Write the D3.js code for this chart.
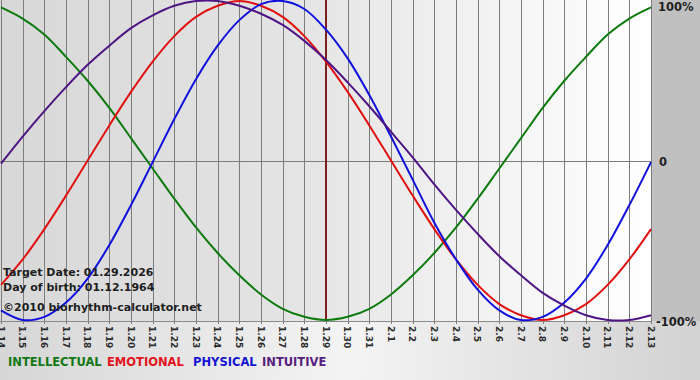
<!DOCTYPE html>
<html><head><meta charset="utf-8">
<script src="https://cdn.jsdelivr.net/npm/d3@7"></script>
<style>html,body{margin:0;padding:0;background:#fff;overflow:hidden}svg{display:block}</style>
</head><body>
<svg id="c" width="700" height="380"></svg>
<script>
const dayLabels = ["1.14","1.15","1.16","1.17","1.18","1.19","1.20","1.21","1.22","1.23","1.24","1.25","1.26","1.27","1.28","1.29","1.30","1.31","2.1","2.2","2.3","2.4","2.5","2.6","2.7","2.8","2.9","2.10","2.11","2.12","2.13"];
const intellectual = [0.96,0.89,0.79,0.65,0.50,0.33,0.14,-0.05,-0.24,-0.42,-0.58,-0.72,-0.84,-0.93,-0.98,-1.00,-0.98,-0.93,-0.84,-0.72,-0.58,-0.42,-0.24,-0.05,0.14,0.33,0.50,0.65,0.79,0.89,0.96];
const emotional = [-0.78,-0.62,-0.43,-0.22,0.00,0.22,0.43,0.62,0.78,0.90,0.97,1.00,0.97,0.90,0.78,0.62,0.43,0.22,0.00,-0.22,-0.43,-0.62,-0.78,-0.90,-0.97,-1.00,-0.97,-0.90,-0.78,-0.62,-0.43];
const physical = [-0.94,-1.00,-0.98,-0.89,-0.74,-0.53,-0.28,-0.01,0.26,0.51,0.72,0.88,0.98,1.00,0.95,0.82,0.64,0.41,0.15,-0.12,-0.39,-0.62,-0.81,-0.94,-1.00,-0.98,-0.89,-0.74,-0.53,-0.28,-0.01];
const intuitive = [-0.02,0.15,0.31,0.46,0.60,0.72,0.83,0.91,0.97,1.00,1.00,0.97,0.92,0.85,0.75,0.63,0.49,0.34,0.18,0.02,-0.15,-0.31,-0.46,-0.60,-0.72,-0.83,-0.91,-0.97,-1.00,-1.00,-0.97];
const targetIndex = 15;
const yTickLabels = [{v:1,t:"100%"},{v:0,t:"0"},{v:-1,t:"-100%"}];
const infoLines = ["Target Date: 01.29.2026","Day of birth: 01.12.1964","\u00A92010 biorhythm-calculator.net"];
const legendItems = [{t:"INTELLECTUAL",c:"#127812"},{t:"EMOTIONAL",c:"#e3141c"},{t:"PHYSICAL",c:"#1414d2"},{t:"INTUITIVE",c:"#57207f"}];

const svg = d3.select("#c");
const defs = svg.append("defs");
const g1 = defs.append("linearGradient").attr("id","plotbg").attr("x1","0").attr("x2","1").attr("y1","0").attr("y2","0");
g1.append("stop").attr("offset","0").attr("stop-color","#d8d8d8");
g1.append("stop").attr("offset","0.45").attr("stop-color","#e4e4e4");
g1.append("stop").attr("offset","1").attr("stop-color","#ffffff");
const g2 = defs.append("linearGradient").attr("id","botbg").attr("x1","0").attr("x2","1").attr("y1","0").attr("y2","0");
g2.append("stop").attr("offset","0").attr("stop-color","#d6d6d6");
g2.append("stop").attr("offset","0.5").attr("stop-color","#f4f4f4");
g2.append("stop").attr("offset","1").attr("stop-color","#d2d2d2");

const x = d3.scaleLinear().domain([0, dayLabels.length-1]).range([1, 651]);
const y = d3.scaleLinear().domain([-1, 1]).range([320, 1]);

svg.append("rect").attr("x",0).attr("y",0).attr("width",700).attr("height",380).attr("fill","url(#botbg)");
svg.append("rect").attr("x",651).attr("y",0).attr("width",49).attr("height",321).attr("fill","#c0c0c0");
svg.append("rect").attr("x",0).attr("y",0).attr("width",651).attr("height",321).attr("fill","url(#plotbg)");

svg.append("g").selectAll("line").data(dayLabels).join("line")
  .attr("x1",(d,i)=>Math.round(x(i))+0.5).attr("x2",(d,i)=>Math.round(x(i))+0.5)
  .attr("y1",0).attr("y2",324).attr("stroke","#7c7c7c").attr("stroke-width",1);
svg.append("line").attr("x1",0).attr("x2",651).attr("y1",Math.round(y(0))+0.5).attr("y2",Math.round(y(0))+0.5).attr("stroke","#7c7c7c");
svg.append("line").attr("x1",0).attr("x2",651).attr("y1",321.5).attr("y2",321.5).attr("stroke","#8a8a8a");

svg.append("g").selectAll("text").data(dayLabels).join("text")
  .attr("transform",(d,i)=>`translate(${x(i)-3.5},326) rotate(90)`)
  .attr("font-family","DejaVu Sans, Verdana, sans-serif").attr("font-size",9).attr("font-weight","bold")
  .attr("fill","#2a2a2a").text(d=>d);

svg.append("line").attr("x1",x(targetIndex)).attr("x2",x(targetIndex)).attr("y1",0).attr("y2",321)
  .attr("stroke","#7a1e1e").attr("stroke-width",2);

const line = d3.line().x((d,i)=>x(i)).y(d=>y(d)).curve(d3.curveCatmullRom.alpha(0.5));
const series = [
  {v:intellectual,c:"#0d7a0d"},
  {v:emotional,c:"#e01010"},
  {v:physical,c:"#1010dc"},
  {v:intuitive,c:"#4f1585"}
];
svg.append("g").selectAll("path").data(series).join("path")
  .attr("d",d=>line(d.v)).attr("fill","none").attr("stroke",d=>d.c).attr("stroke-width",2);

svg.append("g").selectAll("text").data(infoLines).join("text")
  .attr("x",3).attr("y",(d,i)=>[276,291,311][i])
  .attr("font-family","DejaVu Sans, Verdana, sans-serif").attr("font-size",11).attr("font-weight","bold")
  .attr("fill","#1e1e1e").text(d=>d);

svg.append("g").selectAll("text").data(yTickLabels).join("text")
  .attr("x",d=>d.v===0?659:(d.v===1?658:656)).attr("y",d=>y(d.v)+(d.v===1?10:(d.v===0?5:6)))
  .attr("font-family","DejaVu Sans, Verdana, sans-serif").attr("font-size",11.5).attr("font-weight","bold")
  .attr("fill","#1e1e1e").text(d=>d.t);

const legX = [8,107,193,262];
svg.append("g").selectAll("text").data(legendItems).join("text")
  .attr("x",(d,i)=>legX[i]).attr("y",366)
  .attr("font-family","DejaVu Sans, Verdana, sans-serif").attr("font-size",11.5).attr("font-weight","bold")
  .attr("fill",d=>d.c).text(d=>d.t);
</script>
</body></html>
